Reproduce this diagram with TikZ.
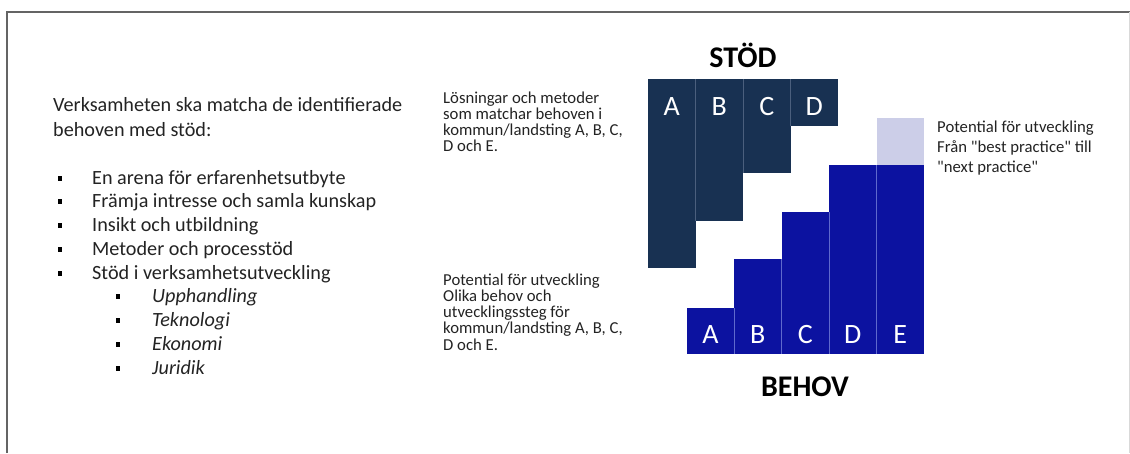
\documentclass[tikz,border=0pt]{standalone}
\usepackage{fontspec}
\setmainfont{Carlito}
\newfontfamily\qfont{Carlito}[Mapping=]
\definecolor{navy}{RGB}{24,49,82}
\definecolor{navyline}{RGB}{75,95,125}
\definecolor{royal}{RGB}{12,18,160}
\definecolor{royalline}{RGB}{95,105,205}
\definecolor{lav}{RGB}{204,206,232}
\definecolor{txt}{RGB}{35,35,35}
\definecolor{frame}{RGB}{100,100,100}
\begin{document}
\begin{tikzpicture}[x=1pt,y=-1pt,
  body/.style={anchor=base west, inner sep=0pt, text=txt, font=\fontsize{20.2}{24}\selectfont},
  bodyit/.style={body, font=\fontsize{20.2}{24}\selectfont\itshape},
  small/.style={anchor=base west, inner sep=0pt, text=txt, font=\fontsize{16.7}{20}\selectfont},
  smallq/.style={small, font=\qfont\fontsize{16.7}{20}\selectfont},
  title/.style={inner sep=0pt, text=black, font=\fontsize{30}{36}\selectfont\bfseries},
  collabel/.style={inner sep=0pt, text=white, font=\fontsize{28}{32}\selectfont},
  bul/.style={fill=black, minimum width=4.6pt, minimum height=5pt, inner sep=0pt},
  divA/.style={draw=navyline, line width=0.8pt},
  divB/.style={draw=royalline, line width=0.8pt}]
\useasboundingbox (0,0) rectangle (1130,453);
% frame
\draw[frame, line width=2pt] (7,453) -- (7,12) -- (1130,12);
\draw[black!15, line width=1pt] (1129,12) -- (1129,453);

% left text
\node[body] (l1) at (53,111) {Verksamheten ska matcha de identifierade};
\node[body] (l2) at (53,136) {behoven med stöd:};
\foreach \i/\t [count=\k] in {0/{En arena för erfarenhetsutbyte},1/{Främja intresse och samla kunskap},2/{Insikt och utbildning},3/{Metoder och processtöd},4/{Stöd i verksamhetsutveckling}}{
  \node[bul] (b\k) at (60,178+23.75*\i) {};
  \node[body] (t\k) at (92,184+23.75*\i) {\t};
}
\foreach \i/\t [count=\k] in {5/{Upphandling},6/{Teknologi},7/{Ekonomi},8/{Juridik}}{
  \node[bul] (sb\k) at (118,178+23.75*\i) {};
  \node[bodyit] (st\k) at (152,184+23.75*\i) {\t};
}

% middle texts
\node[small] (m1) at (443,103) {Lösningar och metoder};
\node[small] (m2) at (443,119.3) {som matchar behoven i};
\node[small] (m3) at (443,135.6) {kommun/landsting A, B, C,};
\node[small] (m4) at (443,151.9) {D och E.};

\node[small] (n1) at (443,285) {Potential för utveckling};
\node[small] (n2) at (443,301.3) {Olika behov och};
\node[small] (n3) at (443,317.6) {utvecklingssteg för};
\node[small] (n4) at (443,333.9) {kommun/landsting A, B, C,};
\node[small] (n5) at (443,350.2) {D och E.};

% right text
\node[small] (r1) at (937,132) {Potential för utveckling};
\node[smallq] (r2) at (937,152) {Från "best practice" till};
\node[smallq] (r3) at (937,172) {"next practice"};

% STÖD columns
\fill[navy] (648,79) rectangle (695.5,268);
\fill[navy] (695.5,79) rectangle (743,221);
\fill[navy] (743,79) rectangle (790.5,173);
\fill[navy] (790.5,79) rectangle (838,126);
\draw[divA] (695.5,79) -- (695.5,221);
\draw[divA] (743,79) -- (743,173);
\draw[divA] (790.5,79) -- (790.5,126);
\node[collabel] (sa) at (671.75,107) {A};
\node[collabel] (sbb) at (719.25,107) {B};
\node[collabel] (sc) at (766.75,107) {C};
\node[collabel] (sd) at (814.25,107) {D};
\node[title] (stod) at (743,55) {STÖD};

% BEHOV columns
\fill[royal] (687,308) rectangle (734,354);
\fill[royal] (734,259) rectangle (781.5,354);
\fill[royal] (781.5,212) rectangle (829,354);
\fill[royal] (829,165) rectangle (876.5,354);
\fill[royal] (876.5,165) rectangle (924,354);
\fill[lav] (876.5,118) rectangle (924,165);
\draw[divB] (734,308) -- (734,354);
\draw[divB] (781.5,259) -- (781.5,354);
\draw[divB] (829,212) -- (829,354);
\draw[divB] (876.5,165) -- (876.5,354);
\node[collabel] (ba) at (710.5,335) {A};
\node[collabel] (bb) at (757.75,335) {B};
\node[collabel] (bc) at (805.25,335) {C};
\node[collabel] (bd) at (852.75,335) {D};
\node[collabel] (be) at (900.25,335) {E};
\node[title] (behov) at (805,387) {BEHOV};
\end{tikzpicture}
\end{document}
